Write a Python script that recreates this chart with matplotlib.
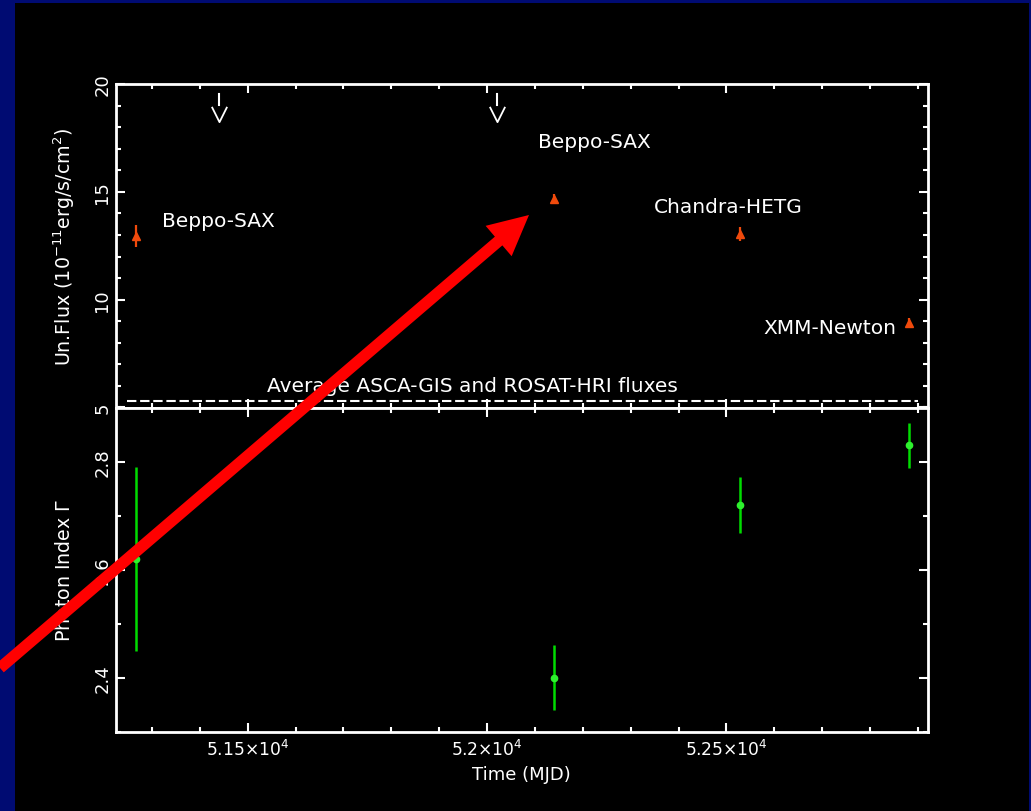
import matplotlib
matplotlib.use("Agg")
from matplotlib import pyplot as plt
from matplotlib.patches import Rectangle, FancyArrow
from matplotlib.ticker import MultipleLocator, FuncFormatter
from matplotlib.markers import MarkerStyle
from matplotlib.path import Path


# observation dates (MJD) and fitted values
mjd = [51267, 52139, 52528, 52882]
flux = [12.95, 14.66, 13.03, 8.93]
flux_err = [0.53, 0.23, 0.32, 0.20]
gamma = [2.62, 2.40, 2.72, 2.83]
gamma_err = [0.17, 0.06, 0.052, 0.042]

# upper limits shown as arrows at the top of the flux panel
ul_mjd = [51441, 52021]
ul_bar_top = 19.54
ul_bar_bottom = 19.04
ul_head = 18.62

# instrument labels
names = ["Beppo-SAX", "Beppo-SAX", "Chandra-HETG", "XMM-Newton"]
name_x = [51321, 52106, 52348, 52578]
name_y = [13.65, 17.32, 14.34, 8.73]

avg_flux = 5.3
avg_range = [51247, 52900]
avg_text = "Average ASCA-GIS and ROSAT-HRI fluxes"

xtick_text = {51500: "5.15", 52000: "5.2", 52500: "5.25"}

NAVY = "#000b72"
ORANGE = "#f04a0c"
FS = 13        # ticks and axis labels
FS_NOTE = 14.5 # annotations inside the plot


def style_axis(ax):
	ax.set_facecolor("black")
	for sp in ax.spines.values():
		sp.set_color("white")
		sp.set_linewidth(2)
	ax.tick_params(which="both", direction="in", top=True, right=True, colors="white", labelsize=FS)
	ax.tick_params(which="major", length=6.5, width=1.5)
	ax.tick_params(which="minor", length=3.8, width=1.5)
	ax.xaxis.set_major_locator(MultipleLocator(500))
	ax.xaxis.set_minor_locator(MultipleLocator(100))
	for lab in ax.get_yticklabels():
		lab.set_rotation(90)
		lab.set_va("center")


def x_fmt(v, pos):
	v = int(round(v))
	if v in xtick_text:
		return r"$%s{\times}10^{4}$" % xtick_text[v]
	return ""


fig = plt.figure(figsize=(10.31, 8.12), dpi=100, facecolor=NAVY)
fig.patches.append(Rectangle((15 / 1031, 0), 1014 / 1031, 808 / 812, transform=fig.transFigure,
	facecolor="black", edgecolor="none", zorder=-10))

left, width = 116 / 1031, 811.5 / 1031
ax1 = fig.add_axes([left, 1 - 408.5 / 812, width, 323.5 / 812])
ax2 = fig.add_axes([left, 1 - 733 / 812, width, 324.5 / 812], sharex=ax1)

# flux panel
ax1.errorbar(mjd, flux, yerr=flux_err, fmt="^", color=ORANGE, ms=5.5, elinewidth=1.6, capsize=0)
ax1.hlines(avg_flux, avg_range[0], avg_range[1], colors="white", linestyles=(0, (4.5, 1.8)), linewidth=1.5)
ax1.text(51541, 6.0, avg_text, color="white", fontsize=FS_NOTE, va="center", ha="left")
for n, tx, ty in zip(names, name_x, name_y):
	ax1.text(tx, ty, n, color="white", fontsize=FS_NOTE, va="center", ha="left")

vee = MarkerStyle(Path([(-1, 1), (0, -1), (1, 1)]), fillstyle="none")
for u in ul_mjd:
	ax1.plot([u, u], [ul_bar_bottom, ul_bar_top], color="white", lw=1.5)
	ax1.plot([u], [ul_head], marker=vee, ms=11, mec="white", mew=1.3, ls="none")

ax1.set_xlim(51225, 52920)
ax1.set_ylim(5, 20)
ax1.yaxis.set_major_locator(MultipleLocator(5))
ax1.yaxis.set_minor_locator(MultipleLocator(1))
ax1.set_ylabel(r"Un.Flux (10$^{-11}$erg/s/cm$^{2}$)", color="white", fontsize=13.7, va="center")
ax1.yaxis.set_label_coords(-0.0635, 0.5)
style_axis(ax1)
ax1.tick_params(labelbottom=False)

# photon index panel
ax2.errorbar(mjd, gamma, yerr=gamma_err, fmt="o", color="#2ef02e", ecolor="#00dc00", ms=4.5,
	elinewidth=1.8, capsize=0)
ax2.set_ylim(2.3, 2.9)
ax2.yaxis.set_major_locator(MultipleLocator(0.2))
ax2.yaxis.set_minor_locator(MultipleLocator(0.1))
ax2.yaxis.set_major_formatter(FuncFormatter(lambda v, p: "%.1f" % v if v < 2.85 else ""))
ax2.xaxis.set_major_formatter(FuncFormatter(x_fmt))
ax2.set_ylabel(r"Photon Index $\Gamma$", color="white", fontsize=13.7, va="center")
ax2.yaxis.set_label_coords(-0.0635, 0.5)
ax2.set_xlabel("Time (MJD)", color="white", fontsize=FS)
style_axis(ax2)
ax2.tick_params(axis="x", pad=5, labelsize=12.3)

# red pointer arrow drawn over everything
over = fig.add_axes([0, 0, 1, 1], zorder=10)
over.set_xlim(0, 1031)
over.set_ylim(812, 0)
over.axis("off")
over.patch.set_alpha(0)
over.add_patch(FancyArrow(0, 669, 529, -453, width=11.5, head_width=40, head_length=40,
	length_includes_head=True, color="#ff0000", lw=0))

fig.savefig("out.png", dpi=100, facecolor=fig.get_facecolor())
